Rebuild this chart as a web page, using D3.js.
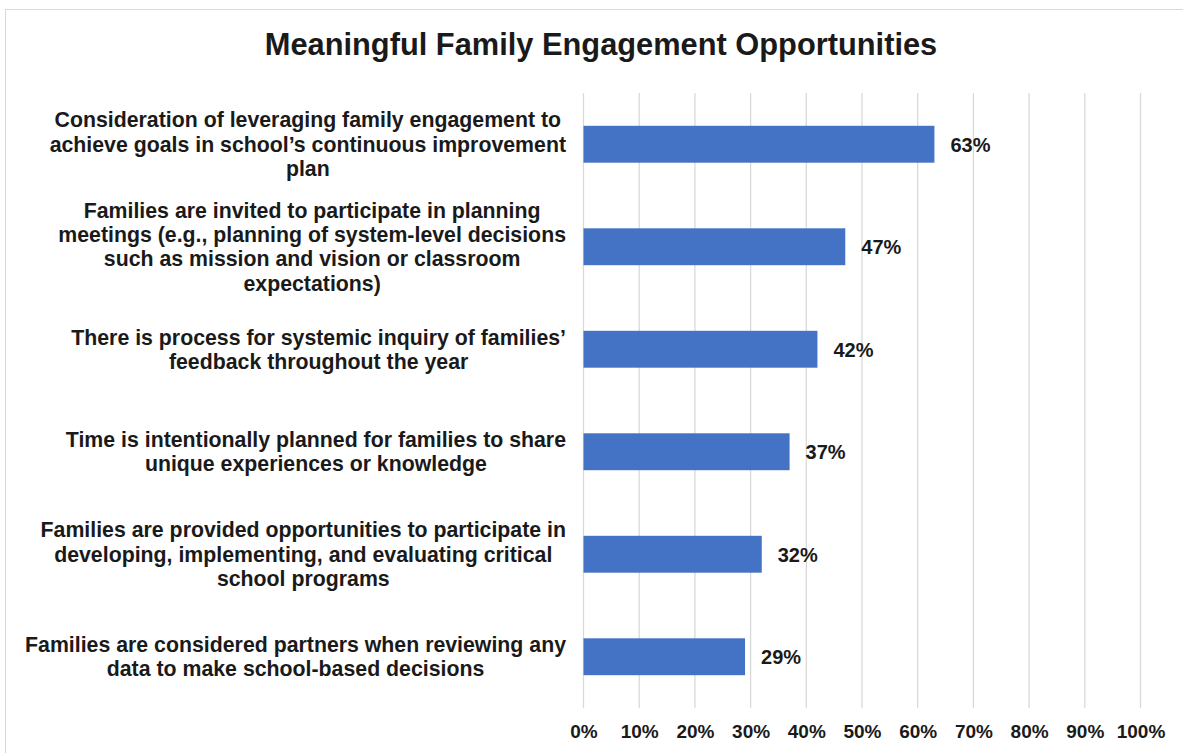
<!DOCTYPE html>
<html>
<head>
<meta charset="utf-8">
<script src="https://cdn.jsdelivr.net/npm/d3@7"></script>
<style>
  html, body { margin: 0; padding: 0; background: #fff; }
  svg { display: block; }
  text { font-family: "Liberation Sans", Arial, sans-serif; font-weight: bold; fill: #1a1a1a; }
</style>
</head>
<body>
<svg id="chart" width="1183" height="753"></svg>
<script>
// Survey items (each inner array is one wrapped label line set)
const categories = [
  ["Consideration of leveraging family engagement to", "achieve goals in school\u2019s continuous improvement", "plan"],
  ["Families are invited to participate in planning", "meetings (e.g., planning of system-level decisions", "such as mission and vision or classroom", "expectations)"],
  ["There is process for systemic inquiry of families\u2019", "feedback throughout the year"],
  ["Time is intentionally planned for families to share", "unique experiences or knowledge"],
  ["Families are provided opportunities to participate in", "developing, implementing, and evaluating critical", "school programs"],
  ["Families are considered partners when reviewing any", "data to make school-based decisions"]
];
const values = [63, 47, 42, 37, 32, 29];
const tickValues = [0, 10, 20, 30, 40, 50, 60, 70, 80, 90, 100];
const title = "Meaningful Family Engagement Opportunities";

const svg = d3.select("#chart");
const plot = { left: 583.5, right: 1140.5, top: 93, bottom: 708 };

// outer chart frame
svg.append("rect")
  .attr("x", 5.5).attr("y", 9.5)
  .attr("width", 1200).attr("height", 800)
  .attr("fill", "none").attr("stroke", "#d9d9d9").attr("stroke-width", 1);

svg.append("text")
  .attr("x", 601).attr("y", 55)
  .attr("text-anchor", "middle")
  .style("font-size", "30.8px")
  .text(title);

const x = d3.scaleLinear().domain([0, 100]).range([plot.left, plot.right]);
const y = d3.scaleBand().domain(d3.range(categories.length))
  .range([plot.top, plot.bottom]).paddingInner(0.64).paddingOuter(0.32);

// vertical gridlines
svg.append("g").selectAll("line").data(tickValues).join("line")
  .attr("x1", d => x(d)).attr("x2", d => x(d))
  .attr("y1", plot.top).attr("y2", plot.bottom)
  .attr("stroke", "#d9d9d9").attr("stroke-width", 1.3);

// x axis tick labels
const xAxis = d3.axisBottom(x).tickValues(tickValues).tickFormat(d => d + "%").tickSize(0).tickPadding(0);
const gx = svg.append("g").attr("transform", `translate(0,${plot.bottom})`).call(xAxis);
gx.select(".domain").remove();
gx.selectAll("text")
  .attr("y", 30).attr("dy", null)
  .style("font-size", "19px").style("font-family", "'Liberation Sans', Arial, sans-serif")
  .style("font-weight", "bold").attr("fill", "#1a1a1a");

// bars
svg.append("g").selectAll("rect").data(values).join("rect")
  .attr("x", x(0))
  .attr("y", (d, i) => y(i))
  .attr("width", d => x(d) - x(0))
  .attr("height", y.bandwidth())
  .attr("fill", "#4472C4");

// value labels
svg.append("g").selectAll("text").data(values).join("text")
  .attr("x", d => x(d) + 16)
  .attr("y", (d, i) => y(i) + y.bandwidth() / 2 + 7.5)
  .style("font-size", "20px")
  .text(d => d + "%");

// category labels: each block centred on its widest line, right edge fixed
const lineH = 24.3;
const labelRight = 566;
categories.forEach((lines, i) => {
  const g = svg.append("g");
  const cy = y(i) + y.bandwidth() / 2;
  const texts = lines.map((ln, k) => g.append("text")
    .attr("y", cy + (k - (lines.length - 1) / 2) * lineH + 7.5)
    .attr("text-anchor", "middle")
    .style("font-size", "21.3px")
    .text(ln));
  const maxW = d3.max(texts, t => t.node().getComputedTextLength());
  texts.forEach(t => t.attr("x", labelRight - maxW / 2));
});
</script>
</body>
</html>
